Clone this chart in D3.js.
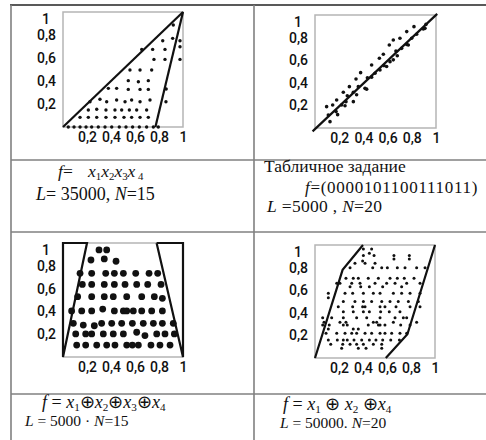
<!DOCTYPE html>
<html>
<head>
<meta charset="utf-8">
<script src="https://cdn.jsdelivr.net/npm/d3@7"></script>
<style>
  html, body { margin: 0; padding: 0; background: #fff; }
  svg { display: block; }
  .tick text { font-family: Roboto, "Open Sans", sans-serif; font-size: 14px; font-weight: 500; fill: #111; }
  .cap { font-family: "Liberation Serif", "Times New Roman", serif; fill: #111; }
</style>
</head>
<body>
<svg id="chart" width="486" height="440"></svg>
<script>
// Shared axis ticks
const tickValues = [0.2, 0.4, 0.6, 0.8, 1];
const tickLabels = ["0,2", "0,4", "0,6", "0,8", "1"];

// Panel 1: f = x1x2x3x4, L = 35000, N = 15
const dots1 = [
  [0.919,0.887],
  [0.831,0.75],[0.914,0.771],[0.975,0.75],
  [0.656,0.675],[0.747,0.675],[0.85,0.675],[0.975,0.698],
  [0.758,0.588],[0.85,0.588],[0.975,0.588],
  [0.558,0.496],[0.642,0.496],[0.739,0.496],
  [0.544,0.403],[0.628,0.394],[0.711,0.403],
  [0.86,0.33],[0.858,0.22],
  [0.378,0.336],[0.447,0.336],[0.544,0.327],[0.642,0.327],[0.711,0.327],
  [0.225,0.22],[0.308,0.241],[0.364,0.22],[0.447,0.235],[0.517,0.22],[0.572,0.235],[0.642,0.22],[0.725,0.235],
  [0.211,0.148],[0.281,0.154],[0.358,0.148],[0.433,0.148],[0.489,0.148],[0.553,0.148],[0.614,0.148],[0.697,0.148],
  [0.142,0.084],[0.211,0.084],[0.281,0.084],[0.358,0.084],[0.433,0.084],[0.508,0.084],[0.572,0.084],[0.642,0.084],[0.711,0.084],
  [0.044,0],[0.092,0],[0.142,0],[0.192,0],[0.239,0],[0.294,0],[0.35,0],[0.406,0],[0.469,0],[0.525,0],[0.58,0],[0.636,0],[0.697,0],[0.753,0],[0.794,0]
];
const bounds1 = [
  [[0,0],[1,1]],
  [[0.77,0],[1,1]]
];

// Panel 2: table-defined f, L = 5000, N = 20
const dots2 = [
  [0.096,0.189],[0.146,0.204],[0.179,0.248],[0.234,0.316],[0.284,0.366],[0.339,0.434],[0.377,0.49],
  [0.468,0.558],[0.532,0.617],[0.565,0.652],[0.614,0.735],[0.647,0.779],[0.702,0.794],[0.758,0.853],[0.818,0.897],
  [0.11,0.115],[0.124,0.056],[0.174,0.145],[0.22,0.204],[0.256,0.233],[0.317,0.233],[0.267,0.286],[0.317,0.316],
  [0.358,0.366],[0.413,0.351],[0.433,0.445],[0.496,0.484],[0.537,0.513],[0.57,0.552],[0.62,0.587],[0.68,0.64],
  [0.669,0.681],[0.716,0.705],[0.758,0.74],[0.799,0.794],[0.84,0.829],[0.895,0.876],[0.917,0.917],
  [0.187,0.118],[0.248,0.197],[0.344,0.294],[0.427,0.344],[0.468,0.45],[0.592,0.544],[0.647,0.603],[0.771,0.735],[0.909,0.882]
];
const bounds2 = [
  [[-0.02,-0.03],[1.01,1.01]]
];

// Panel 3: f = x1 ⊕ x2 ⊕ x3 ⊕ x4, L = 5000, N = 15
const dots3 = [
  [0.3,0.939],[0.364,0.939],
  [0.233,0.851],[0.344,0.86],[0.442,0.84],
  [0.142,0.734],[0.239,0.734],[0.356,0.734],[0.428,0.734],[0.503,0.734],[0.606,0.734],[0.717,0.734],[0.789,0.734],
  [0.161,0.637],[0.239,0.637],[0.344,0.637],[0.428,0.637],[0.517,0.637],[0.614,0.637],[0.706,0.637],[0.817,0.637],
  [0.122,0.529],[0.239,0.529],[0.344,0.529],[0.419,0.529],[0.531,0.529],[0.656,0.529],[0.761,0.529],[0.828,0.515],
  [0.072,0.404],[0.156,0.404],[0.239,0.404],[0.331,0.42],[0.428,0.404],[0.503,0.404],[0.531,0.404],[0.586,0.404],[0.656,0.404],[0.739,0.404],[0.828,0.404],
  [0.086,0.295],[0.169,0.28],[0.261,0.274],[0.322,0.295],[0.406,0.295],[0.489,0.295],[0.578,0.295],[0.669,0.295],[0.753,0.295],[0.828,0.295],[0.919,0.295],
  [0.106,0.202],[0.189,0.202],[0.239,0.202],[0.336,0.202],[0.419,0.202],[0.503,0.202],[0.614,0.217],[0.683,0.188],[0.781,0.202],[0.85,0.202],[0.928,0.202],
  [0.114,0.105],[0.189,0.105],[0.281,0.105],[0.364,0.105],[0.433,0.105],[0.531,0.105],[0.578,0.105],[0.628,0.105],[0.733,0.105],[0.808,0.105],[0.892,0.105]
];
const bounds3 = [
  [[0,0],[0,1],[0.2,1],[0,0]],
  [[0.78,1],[1,1],[1,0],[0.78,1]]
];

// Panel 4: f = x1 ⊕ x2 ⊕ x4, L = 50000, N = 20
const dots4 = [
  [0.403,0.965],[0.472,0.965],
  [0.453,0.926],
  [0.403,0.906],[0.492,0.906],[0.658,0.906],[0.786,0.906],
  [0.658,0.876],[0.786,0.876],
  [0.397,0.858],
  [0.333,0.838],[0.417,0.838],[0.5,0.838],
  [0.292,0.799],[0.481,0.799],[0.556,0.799],[0.603,0.799],[0.686,0.799],[0.75,0.799],[0.847,0.799],[0.917,0.799],
  [0.258,0.705],[0.319,0.705],[0.361,0.705],[0.444,0.705],[0.528,0.705],[0.625,0.705],[0.686,0.705],[0.744,0.705],[0.825,0.705],
  [0.181,0.661],[0.208,0.661],[0.306,0.661],[0.375,0.661],[0.5,0.661],[0.597,0.661],[0.667,0.661],[0.764,0.661],[0.875,0.661],
  [0.292,0.631],[0.381,0.631],[0.453,0.631],[0.564,0.631],[0.722,0.631],
  [0.111,0.572],[0.25,0.572],[0.314,0.572],[0.403,0.572],[0.486,0.572],[0.542,0.572],[0.653,0.572],[0.722,0.572],[0.792,0.572],[0.875,0.572],
  [0.111,0.534],
  [0.236,0.499],[0.333,0.499],[0.403,0.499],[0.472,0.499],[0.556,0.499],[0.625,0.499],[0.694,0.499],[0.778,0.499],[0.861,0.499],
  [0.194,0.454],[0.314,0.454],[0.397,0.454],[0.417,0.454],[0.542,0.454],[0.583,0.454],[0.675,0.454],[0.792,0.454],[0.875,0.454],
  [0.236,0.41],[0.319,0.41],[0.403,0.41],[0.453,0.41],[0.547,0.41],[0.619,0.41],[0.708,0.41],
  [0.064,0.357],[0.139,0.357],[0.236,0.357],[0.347,0.357],[0.431,0.357],[0.542,0.357],[0.667,0.357],[0.736,0.357],[0.764,0.357],
  [0.075,0.316],[0.208,0.316],[0.258,0.316],[0.486,0.316],[0.514,0.316],[0.653,0.316],[0.847,0.316],
  [0.064,0.292],[0.119,0.292],[0.236,0.292],[0.269,0.292],[0.444,0.292],[0.528,0.292],[0.542,0.292],[0.583,0.292],[0.714,0.292],[0.792,0.292],
  [0.111,0.257],[0.319,0.257],[0.361,0.257],
  [0.092,0.218],[0.181,0.218],[0.25,0.218],[0.306,0.218],[0.347,0.218],[0.417,0.218],[0.472,0.218],[0.542,0.218],[0.583,0.218],[0.639,0.218],[0.708,0.218],[0.764,0.218],
  [0.111,0.159],[0.186,0.159],[0.236,0.159],[0.269,0.159],[0.325,0.159],[0.389,0.159],[0.453,0.159],[0.508,0.159],[0.564,0.159],[0.631,0.159],[0.703,0.159],
  [0.131,0.121],[0.231,0.121],[0.292,0.121],[0.347,0.121],[0.403,0.121],[0.486,0.121],[0.556,0.121],
  [0.222,0.086],[0.361,0.086],[0.425,0.086],[0.556,0.086]
];
const bounds4 = [
  [[0,0],[0.23,0.78],[0.4,1]],
  [[0.59,0],[0.77,0.21],[1,1]]
];

const svg = d3.select("#chart");
svg.append("rect").attr("width", 486).attr("height", 440).attr("fill", "#fff");

// Table frame
const frame = svg.append("g").attr("stroke", "#808080").attr("stroke-width", 1.6).attr("fill", "none");
frame.append("line").attr("x1", 10).attr("x2", 486).attr("y1", 5).attr("y2", 5).attr("stroke", "#222");
frame.append("line").attr("x1", 11).attr("x2", 11).attr("y1", 5).attr("y2", 440);
frame.append("line").attr("x1", 254).attr("x2", 254).attr("y1", 5).attr("y2", 440);
frame.append("line").attr("x1", 11).attr("x2", 486).attr("y1", 160).attr("y2", 160);
frame.append("line").attr("x1", 11).attr("x2", 486).attr("y1", 232).attr("y2", 232);
frame.append("line").attr("x1", 11).attr("x2", 486).attr("y1", 394).attr("y2", 394);

function panel(box, dots, bounds, r) {
  const x = d3.scaleLinear().domain([0, 1]).range([box.left, box.left + box.w]);
  const y = d3.scaleLinear().domain([0, 1]).range([box.top + box.h, box.top]);
  const g = svg.append("g");

  g.append("rect")
    .attr("x", box.left).attr("y", box.top)
    .attr("width", box.w).attr("height", box.h)
    .attr("fill", "none").attr("stroke", "#b5b5b5").attr("stroke-width", 1.5);

  const fmt = d => tickLabels[tickValues.indexOf(d)];

  const ax = g.append("g")
    .attr("transform", `translate(0,${box.top + box.h})`)
    .call(d3.axisBottom(x).tickValues(tickValues).tickFormat(fmt).tickSize(0).tickPadding(5));
  ax.select(".domain").remove();
  ax.selectAll(".tick text").attr("font-family", null).attr("font-size", null);

  const ay = g.append("g")
    .attr("transform", `translate(${box.left},0)`)
    .call(d3.axisLeft(y).tickValues(tickValues).tickFormat(fmt).tickSize(0).tickPadding(7));
  ay.select(".domain").remove();
  ay.selectAll(".tick text").attr("font-family", null).attr("font-size", null)
    .attr("dy", d => d === 1 ? "0.85em" : "0.32em")
    .attr("dx", d => d === 1 ? -6 : 0);

  const line = d3.line().x(d => x(d[0])).y(d => y(d[1]));
  g.selectAll("path.bound").data(bounds).join("path")
    .attr("class", "bound")
    .attr("d", line)
    .attr("fill", "none").attr("stroke", "#111").attr("stroke-width", 2.2)
    .attr("stroke-linejoin", "miter");

  g.selectAll("circle").data(dots).join("circle")
    .attr("cx", d => x(d[0])).attr("cy", d => y(d[1]))
    .attr("r", r).attr("fill", "#111");
}

panel({left: 63, top: 12, w: 120, h: 115}, dots1, bounds1, 1.7);
panel({left: 315, top: 15, w: 121, h: 113}, dots2, bounds2, 1.8);
panel({left: 63, top: 243, w: 120, h: 114}, dots3, bounds3, 3.4);
panel({left: 315, top: 245, w: 120, h: 113}, dots4, bounds4, 1.5);

// Caption helpers: italic run, plain run, subscript
function it(t, s) { t.append("tspan").attr("font-style", "italic").text(s); }
function rm(t, s) { t.append("tspan").text(s); }
function sub(t, s) {
  t.append("tspan").attr("font-size", "0.62em").attr("baseline-shift", "-28%").text(s);
}
function cap(x, y, size) {
  return svg.append("text").attr("class", "cap").attr("x", x).attr("y", y).attr("font-size", size);
}

// Cell 1
let t = cap(58, 177, 17.5);
it(t, "f"); rm(t, "=");
t.append("tspan").attr("font-style", "italic").attr("x", 88).text("x"); sub(t, "1");
it(t, "x"); sub(t, "2");
it(t, "x"); sub(t, "3");
it(t, "x"); sub(t, " 4");

t = cap(36, 200, 18);
it(t, "L"); rm(t, "= 35000, "); it(t, "N"); rm(t, "=15");

// Cell 2
cap(264, 172, 17.5).text("Табличное задание");
t = cap(305, 193, 17).attr("letter-spacing", 0.7);
it(t, "f"); rm(t, "=(0000101100111011)");
t = cap(267, 212, 17.5).attr("letter-spacing", 0.3);
it(t, "L"); rm(t, " =5000 , "); it(t, "N"); rm(t, "=20");

// Cell 3
t = cap(42, 408, 18);
it(t, "f"); rm(t, " = ");
it(t, "x"); sub(t, "1"); rm(t, "⊕");
it(t, "x"); sub(t, "2"); rm(t, "⊕");
it(t, "x"); sub(t, "3"); rm(t, "⊕");
it(t, "x"); sub(t, "4");
t = cap(25, 426, 15.5);
it(t, "L"); rm(t, " = 5000 · "); it(t, "N"); rm(t, "=15");

// Cell 4
t = cap(283, 410, 18);
it(t, "f"); rm(t, " = ");
it(t, "x"); sub(t, "1"); rm(t, " ⊕ ");
it(t, "x"); sub(t, "2"); rm(t, " ⊕");
it(t, "x"); sub(t, "4");
t = cap(280, 428, 15.5);
it(t, "L"); rm(t, " = 50000. "); it(t, "N"); rm(t, "=20");
</script>
</body>
</html>
